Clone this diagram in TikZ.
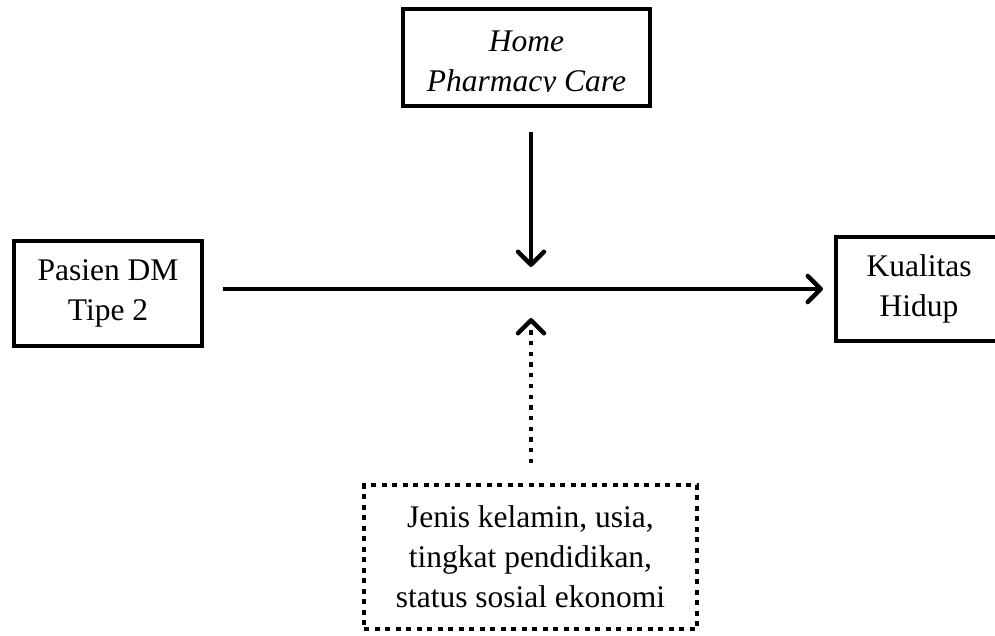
\documentclass[tikz,border=0pt]{standalone}
\usepackage{fontspec}
\setmainfont{Liberation Serif}
\usetikzlibrary{arrows.meta}
\begin{document}
\begin{tikzpicture}[x=1pt,y=-1pt,
  box/.style={draw, line width=4pt, align=center, inner sep=0pt,
    font=\fontsize{31.5}{40}\selectfont},
  dotbox/.style={box, dash pattern=on 5pt off 5.5pt},
  conn/.style={line width=4.5pt,
    -{Straight Barb[length=13pt,width=26pt,line join=round,line cap=round]}},
  dotconn/.style={conn, dash pattern=on 4.3pt off 6.4pt}]
\clip (0,0) rectangle (995,635);
\fill[white] (0,0) rectangle (995,635);
\node[box, minimum width=247pt, minimum height=97pt] (pharm) at (526.5,57.5)
  {\rule{0pt}{34pt}\itshape Home\\\itshape Pharmacy Care};
\fill[white] (405,92) rectangle (648,104);
\node[box, minimum width=188pt, minimum height=105pt] (pasien) at (108,293.5) {Pasien DM\\Tipe 2};
\node[box, minimum width=166pt, minimum height=104pt] (kualitas) at (919,289) {Kualitas\\Hidup};
\node[dotbox, minimum width=333pt, minimum height=144pt] (faktor) at (530.5,557)
  {Jenis kelamin, usia,\\tingkat pendidikan,\\status sosial ekonomi};
\coordinate (meet) at (531,289);
\draw[conn, shorten <=19pt, shorten >=11pt] (pasien.east |- kualitas.west) -- (kualitas.west);
\draw[conn, shorten <=24pt, shorten >=22pt] (pharm.south -| meet) -- (meet);
\draw[dotconn, shorten <=20pt, shorten >=29pt] (faktor.north -| meet) -- (meet);
\end{tikzpicture}
\end{document}
